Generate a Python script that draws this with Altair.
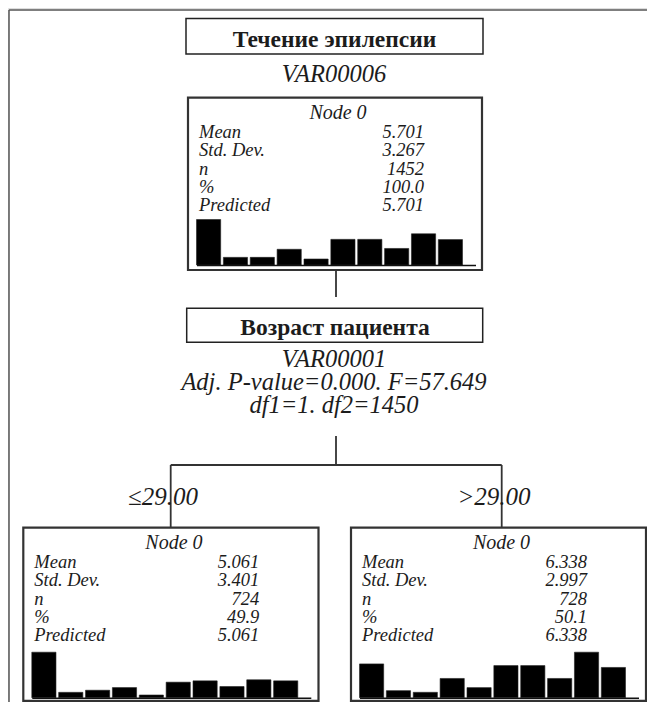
import altair as alt
import pandas as pd

# ---------------- data ----------------
target_title = "Течение эпилепсии"
target_var = "VAR00006"
split_title = "Возраст пациента"
split_lines = ["VAR00001", "Adj. P-value=0.000. F=57.649", "df1=1. df2=1450"]
branch_labels = ["≤29.00", ">29.00"]

stat_labels = ["Mean", "Std. Dev.", "n", "%", "Predicted"]
node_names = ["Node 0", "Node 0", "Node 0"]
stats_root = ["5.701", "3.267", "1452", "100.0", "5.701"]
stats_left = ["5.061", "3.401", "724", "49.9", "5.061"]
stats_right = ["6.338", "2.997", "728", "50.1", "6.338"]

categories = [1, 2, 3, 4, 5, 6, 7, 8, 9, 10]
hist_root = [22.0, 3.7, 3.7, 7.6, 2.9, 12.4, 12.4, 8.0, 15.1, 12.3]
hist_left = [30.5, 3.6, 5.0, 6.8, 1.8, 10.4, 11.3, 7.5, 12.0, 11.3]
hist_right = [14.4, 3.0, 2.3, 8.2, 4.3, 13.7, 13.7, 8.2, 19.4, 12.9]

# ---------------- layout (image pixels) ----------------
W, H = 639, 694
OFF = 8
FONT = "Liberation Serif"
INK = "#1c1c1c"
LINE = "#333333"

# node boxes: (x0, y0, x1, y1)
node_boxes = [(188, 97.7, 482, 270), (23.3, 527.7, 318.5, 702.7), (351, 527.7, 646, 702.7)]
node_stats = [stats_root, stats_left, stats_right]
node_hists = [hist_root, hist_left, hist_right]

XS = alt.Scale(domain=[OFF, OFF + W], range=[0, W], nice=False, zero=False)
YS = alt.Scale(domain=[OFF, OFF + H], range=[0, H], nice=False, zero=False)


def X(f):
    return alt.X(f, type="quantitative", scale=XS, axis=None)


def Y(f):
    return alt.Y(f, type="quantitative", scale=YS, axis=None)


layers = []

# outer frame (left and top edges visible)
frame = pd.DataFrame([
    {"x": 9, "x2": 9, "y": 10, "y2": 720},
    {"x": 9, "x2": 660, "y": 10, "y2": 10},
])
layers.append(alt.Chart(frame).mark_rule(color="#555555", strokeWidth=1.5).encode(
    x=X("x"), x2="x2", y=Y("y"), y2="y2"))

# header boxes
hboxes = pd.DataFrame([
    {"x": 186, "x2": 483, "y": 18.5, "y2": 54},
    {"x": 186.7, "x2": 482.7, "y": 308.3, "y2": 342.3},
])
layers.append(alt.Chart(hboxes).mark_rect(fill="white", stroke="#222222", strokeWidth=1.5).encode(
    x=X("x"), x2="x2", y=Y("y"), y2="y2"))

# node boxes (bottom edge kept inside the drawing area)
nb = pd.DataFrame([{"x": b[0], "x2": b[2], "y": b[1], "y2": min(b[3], 700.8)} for b in node_boxes])
layers.append(alt.Chart(nb).mark_rect(fill="white", stroke=LINE, strokeWidth=2.2).encode(
    x=X("x"), x2="x2", y=Y("y"), y2="y2"))

# connectors
conn = pd.DataFrame([
    {"x": 336, "x2": 336, "y": 270, "y2": 297},
    {"x": 336, "x2": 336, "y": 436, "y2": 465},
    {"x": 170.7, "x2": 501.7, "y": 465, "y2": 465},
    {"x": 170.7, "x2": 170.7, "y": 465, "y2": 527.7},
    {"x": 501.7, "x2": 501.7, "y": 465, "y2": 527.7},
])
layers.append(alt.Chart(conn).mark_rule(color=LINE, strokeWidth=1.8).encode(
    x=X("x"), x2="x2", y=Y("y"), y2="y2"))

# header titles (bold)
titles = pd.DataFrame([
    {"x": 334.5, "y": 46.5, "t": target_title},
    {"x": 335, "y": 334.5, "t": split_title},
])
layers.append(alt.Chart(titles).mark_text(font=FONT, fontSize=23.5, fontWeight="bold", color=INK,
                                          align="center", baseline="alphabetic").encode(
    x=X("x"), y=Y("y"), text="t:N"))

# italic descriptive lines
ital = pd.DataFrame(
    [{"x": 334, "y": 82, "t": target_var}]
    + [{"x": 334, "y": 367 + 23 * i, "t": s} for i, s in enumerate(split_lines)]
)
layers.append(alt.Chart(ital).mark_text(font=FONT, fontSize=24.5, fontStyle="italic", color=INK,
                                        align="center", baseline="alphabetic").encode(
    x=X("x"), y=Y("y"), text="t:N"))

# branch labels
br = pd.DataFrame([
    {"x": 163, "y": 505, "t": branch_labels[0]},
    {"x": 494, "y": 505, "t": branch_labels[1]},
])
layers.append(alt.Chart(br).mark_text(font=FONT, fontSize=25, fontStyle="italic", color=INK,
                                      align="center", baseline="alphabetic").encode(
    x=X("x"), y=Y("y"), text="t:N"))

# node texts
name_rows, lab_rows, val_rows, base_rows = [], [], [], []
for k, (x0, y0, x1, y1) in enumerate(node_boxes):
    name_rows.append({"x": (x0 + x1) / 2 + 3, "y": y0 + 21, "t": node_names[k]})
    for i, lab in enumerate(stat_labels):
        lab_rows.append({"x": x0 + 11, "y": y0 + 40 + 18.4 * i, "t": lab})
        val_rows.append({"x": x0 + 236, "y": y0 + 40 + 18.4 * i, "t": node_stats[k][i]})
    base_rows.append({"x": x0 + 9, "x2": x0 + 288, "y": y1 - 4.5, "y2": y1 - 4.5})

node_font = dict(font=FONT, fontStyle="italic", color=INK, baseline="alphabetic")
layers.append(alt.Chart(pd.DataFrame(name_rows)).mark_text(align="center", fontSize=20, **node_font).encode(
    x=X("x"), y=Y("y"), text="t:N"))
layers.append(alt.Chart(pd.DataFrame(lab_rows)).mark_text(align="left", fontSize=18.5, **node_font).encode(
    x=X("x"), y=Y("y"), text="t:N"))
layers.append(alt.Chart(pd.DataFrame(val_rows)).mark_text(align="right", fontSize=18.5, **node_font).encode(
    x=X("x"), y=Y("y"), text="t:N"))

# histograms, each with its own band / linear scale placed inside its node box
for k, (x0, y0, x1, y1) in enumerate(node_boxes):
    hdf = pd.DataFrame({"cat": categories, "pct": node_hists[k]})
    base = y1 - 5
    layers.append(alt.Chart(hdf).mark_bar(color="black", stroke="#222222", strokeWidth=0.6).encode(
        x=alt.X("cat:O", axis=None,
                scale=alt.Scale(domain=categories, range=[x0 + 8.5 - OFF, x0 + 274.5 - OFF],
                                paddingInner=0.1, paddingOuter=0)),
        y=alt.Y("pct:Q", axis=None,
                scale=alt.Scale(domain=[0, max(node_hists[k])], range=[base - OFF, base - OFF - 45.5],
                                nice=False, zero=False)),
    ))

# histogram baselines
layers.append(alt.Chart(pd.DataFrame(base_rows)).mark_rule(color="#111111", strokeWidth=1.5).encode(
    x=X("x"), x2="x2", y=Y("y"), y2="y2"))

chart = alt.layer(*layers).resolve_scale(x="independent", y="independent").properties(
    width=W, height=H, autosize=alt.AutoSizeParams(type="none"), padding=0
).configure_view(strokeWidth=0).configure(background="white")

chart.save("out.html", embed_options={"renderer": "svg", "actions": False})
